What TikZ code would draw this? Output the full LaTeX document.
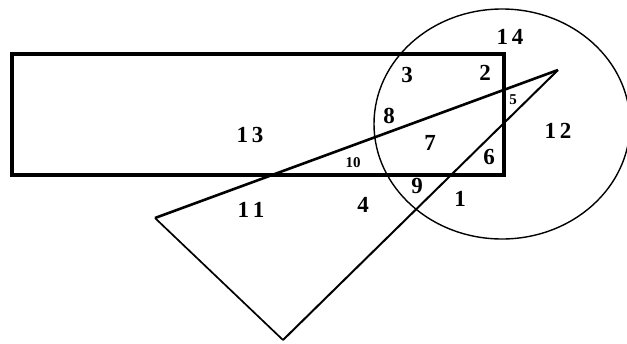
\documentclass[tikz,border=0pt]{standalone}
\usepackage{fontspec}
\setmainfont{Liberation Serif}
\begin{document}
\begin{tikzpicture}[x=1pt,y=-1pt,
  lbl/.style={font=\fontsize{23}{23}\selectfont\bfseries, inner sep=0pt},
  small/.style={font=\fontsize{15}{15}\selectfont\bfseries, inner sep=0pt},
  thick rect/.style={line width=3.2pt},
]
\useasboundingbox (0,0) rectangle (627,343);
\fill[white] (0,0) rectangle (627,343);
% triangle vertices
\coordinate (A) at (558,70);
\coordinate (L) at (155,218);
\coordinate (B) at (283,340);
% circle
\draw[line width=1.4pt] (502,124) ellipse [x radius=128, y radius=115];
% rectangle
\draw[thick rect] (12,54) rectangle (504,175);
% triangle
\draw[line width=2.6pt] (A) -- (L);
\draw[line width=1.7pt] (L) -- (B);
\draw[line width=2pt] (B) -- (A);
% labels
\node[lbl] (n14) at (510,37) {1\,4};
\node[lbl] (n3) at (407,75) {3};
\node[lbl] (n2) at (485,73) {2};
\node[small] (n5) at (513,100) {5};
\node[lbl] (n8) at (389,116) {8};
\node[lbl] (n12) at (558,131) {1\,2};
\node[lbl] (n7) at (430,143) {7};
\node[lbl] (n6) at (489,157) {6};
\node[lbl] (n9) at (417,186) {9};
\node[lbl] (n1) at (460,199) {1};
\node[lbl] (n13) at (250,135) {1\,3};
\node[lbl] (n11) at (251,210) {1\,1};
\node[small] (n10) at (353,163) {10};
\node[lbl] (n4) at (363,205) {4};
\end{tikzpicture}
\end{document}
